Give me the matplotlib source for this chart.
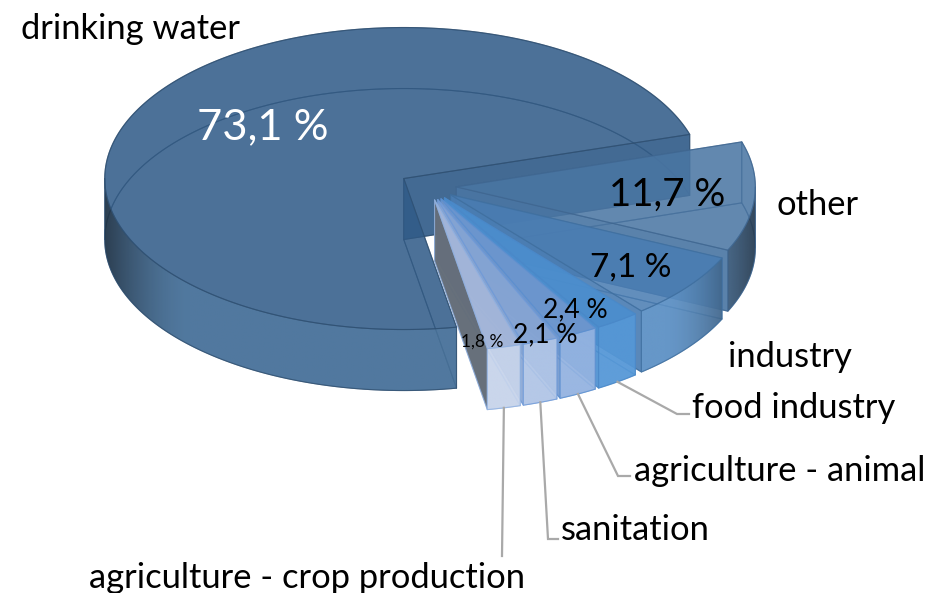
"""Exploded 3D pie of water use by sector."""

import numpy as np
from matplotlib import pyplot as plt
from matplotlib.colors import to_rgb, to_rgba
from matplotlib.patches import Polygon

plt.rcParams["font.family"] = ["Lato", "DejaVu Sans"]

# counter-clockwise from the start angle
SECTORS = [
    "drinking water",
    "agriculture - crop production",
    "sanitation",
    "agriculture - animal",
    "food industry",
    "industry",
    "other",
]
SHARES = [73.1, 1.8, 1.9, 2.1, 2.4, 7.1, 11.7]
PERCENT_LABELS = ["73,1 %", "1,8 %", "", "2,1 %", "2,4 %", "7,1 %", "11,7 %"]

COLORS = ["#315c89", "#a6b7d9", "#88a6d4", "#7197cd", "#4b8fd0", "#4a7db3", "#4a76a3"]
FRONTS = ["#4a749c", "#cdd9ee", "#b8cbea", "#9ab8e4", "#5799d8", "#6094c8", "#5582b0"]
EDGES = ["#2f4f70", "#8fb0e0", "#6f9ad8", "#5b8fd0", "#4a88c8", "#3f6f9f", "#3f6690"]

CX, CY = 428, 186
RX, RY = 299, 151
DEPTH = 61
EXPLODE = 0.095
START = 17.0

# where the label sits, leader elbow if any
NAME_POS = {
    "drinking water": (21, 29),
    "agriculture - crop production": (89, 578),
    "sanitation": (561, 530),
    "agriculture - animal": (634, 471),
    "food industry": (692, 408),
    "industry": (728, 357),
    "other": (776, 205),
}
LEADERS = {
    "agriculture - crop production": [(502, 556)],
    "sanitation": [(548, 539), (558, 539)],
    "agriculture - animal": [(618, 476), (630, 476)],
    "food industry": [(677, 414), (689, 414)],
}
PCT_POS = {
    "73,1 %": (263, 127, 31.3),
    "1,8 %": (482, 342, 12.5),
    "2,1 %": (545, 335, 19),
    "2,4 %": (575, 310, 19),
    "7,1 %": (631, 268, 24),
    "11,7 %": (667, 195, 27.7),
}

zo = [1]


def next_z():
    zo[0] += 1
    return zo[0]


def arc(apex, t0, t1, dy=0.0):
    t = np.radians(np.linspace(t0, t1, max(int(abs(t1 - t0)) * 2, 2) + 1))
    return np.column_stack(
        [apex[0] + RX * np.cos(t), apex[1] - RY * np.sin(t) + dy]
    )


def poly(ax, pts, color, edge, alpha, lw=0.8):
    p = Polygon(pts, closed=True, facecolor=to_rgba(color, alpha),
                edgecolor=to_rgba(edge, 0.7), linewidth=lw,
                zorder=next_z(), joinstyle="round")
    ax.add_patch(p)
    return p


def shaded_wall(ax, pts, apex, color):
    """Front wall, going dark towards the ends of the ellipse."""
    x0, x1 = pts[:, 0].min(), pts[:, 0].max()
    y0, y1 = pts[:, 1].min(), pts[:, 1].max()
    xs = np.linspace(x0, x1, 300)
    u = np.abs(xs - apex[0]) / RX
    dark = np.clip((u - 0.72) / 0.28, 0, 1) ** 1.6 * 0.62
    base = np.array(to_rgb(color))
    rgba = np.zeros((1, xs.size, 4))
    rgba[0, :, :3] = base[None, :] * (1 - dark[:, None])
    rgba[0, :, 3] = 0.8
    im = ax.imshow(rgba, extent=[x0, x1, y1, y0], aspect="auto", zorder=next_z(),
                   interpolation="bilinear")
    im.set_clip_path(Polygon(pts, closed=True, transform=ax.transData))


def draw_wedge(ax, t0, t1, color, front, edge, grey_wall):
    mid = np.radians((t0 + t1) / 2)
    apex = (CX + EXPLODE * RX * np.cos(mid), CY - EXPLODE * RY * np.sin(mid))
    rim = arc(apex, t0, t1)
    low = arc(apex, t0, t1, DEPTH)
    a_top = np.array([apex])
    a_low = np.array([[apex[0], apex[1] + DEPTH]])
    wall_alpha = 0.7

    # floor first, everything is see-through
    poly(ax, np.vstack([a_low, low]), color, edge, wall_alpha)

    # split outer wall where it turns from back to front
    cuts = [t0] + [c for c in (180, 360) if t0 < c < t1] + [t1]
    segs = list(zip(cuts[:-1], cuts[1:]))
    back = [s for s in segs if np.sin(np.radians(sum(s) / 2)) > 0]
    front_segs = [s for s in segs if np.sin(np.radians(sum(s) / 2)) <= 0]
    for s0, s1 in back:
        poly(ax, np.vstack([arc(apex, s0, s1), arc(apex, s0, s1, DEPTH)[::-1]]),
             color, edge, wall_alpha)

    # radial walls
    for end in (t1, t0):
        r = arc(apex, end, end + 0.01)[0]
        wall_col, alpha = color, wall_alpha
        if grey_wall and end == t0:
            wall_col, alpha = "#626b76", 0.95
        poly(ax, [apex, r, (r[0], r[1] + DEPTH), (apex[0], apex[1] + DEPTH)],
             wall_col, edge, alpha)

    for s0, s1 in front_segs:
        pts = np.vstack([arc(apex, s0, s1), arc(apex, s0, s1, DEPTH)[::-1]])
        shaded_wall(ax, pts, apex, front)
        poly(ax, pts, front, edge, 0.0)

    poly(ax, np.vstack([a_top, rim]), color, edge, 0.55)
    return apex


def main():
    fig = plt.figure(figsize=(9.32, 5.93), dpi=100)
    ax = fig.add_axes([0, 0, 1, 1])
    angles = START + np.cumsum([0] + SHARES) * 3.6

    # back to front: the big wedge, then round from "other" to the crop slice
    rims = {}
    for i in [0] + list(range(len(SECTORS) - 1, 0, -1)):
        name = SECTORS[i]
        t0, t1 = angles[i], angles[i + 1]
        apex = draw_wedge(ax, t0, t1, COLORS[i], FRONTS[i], EDGES[i],
                          name == "agriculture - crop production")
        rims[name] = arc(apex, (t0 + t1) / 2, (t0 + t1) / 2 + 0.01, DEPTH)[0]

    for name, elbow in LEADERS.items():
        pts = np.vstack([rims[name], elbow])
        ax.plot(pts[:, 0], pts[:, 1], color="#a9a9a9", lw=1.6, zorder=next_z(),
                solid_joinstyle="miter")

    for name, (x, y) in NAME_POS.items():
        ax.text(x, y, name, fontsize=24.8, ha="left", va="center", color="black",
                zorder=next_z())
    for text in PERCENT_LABELS:
        if not text:
            continue
        x, y, size = PCT_POS[text]
        ax.text(x, y, text, fontsize=size, ha="center", va="center",
                color="white" if text == "73,1 %" else "black", zorder=next_z())

    ax.set_xlim(0, 932)
    ax.set_ylim(593, 0)
    ax.axis("off")
    fig.savefig("out.png", dpi=100)
    plt.close(fig)


if __name__ == "__main__":
    main()
